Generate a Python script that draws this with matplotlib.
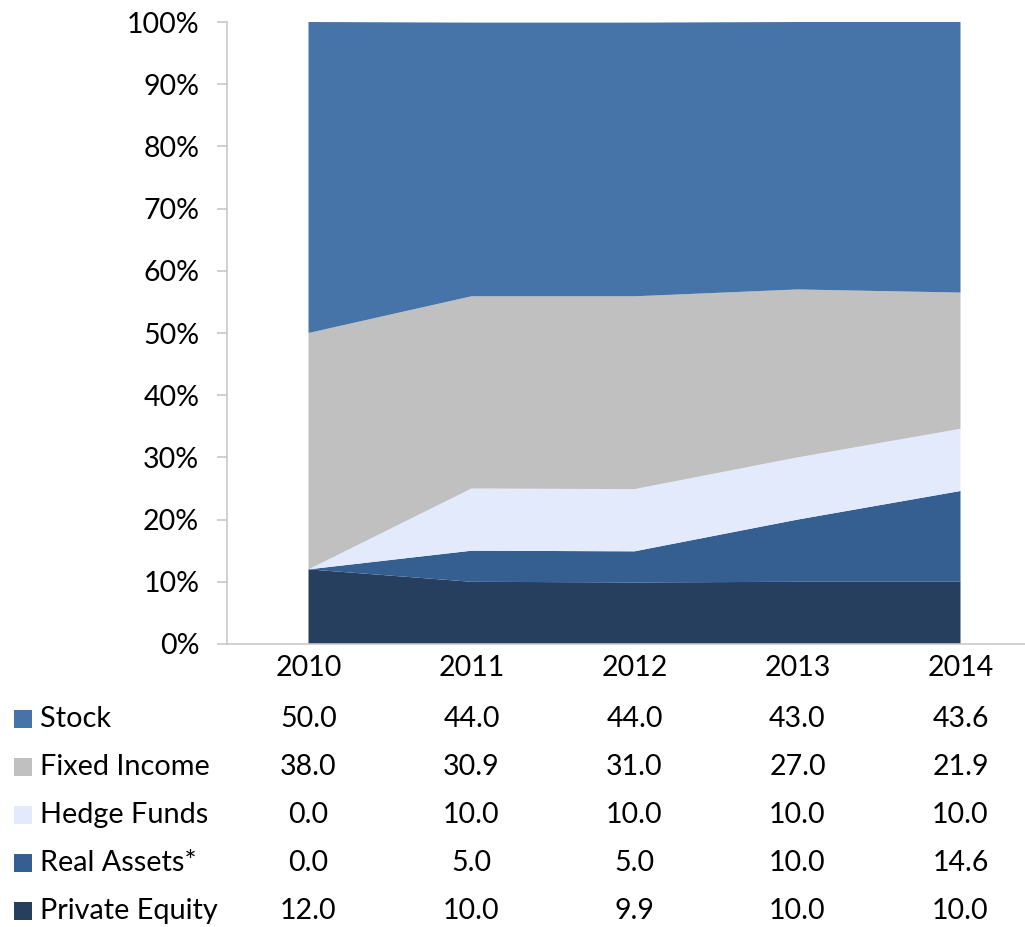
import matplotlib
matplotlib.use("Agg")
import matplotlib.pyplot as plt
from matplotlib.patches import Rectangle
from matplotlib.transforms import blended_transform_factory
import numpy as np

years = ["2010", "2011", "2012", "2013", "2014"]
series_names = ["Stock", "Fixed Income", "Hedge Funds", "Real Assets*", "Private Equity"]
stock = [50.0, 44.0, 44.0, 43.0, 43.6]
fixed_income = [38.0, 30.9, 31.0, 27.0, 21.9]
hedge_funds = [0.0, 10.0, 10.0, 10.0, 10.0]
real_assets = [0.0, 5.0, 5.0, 10.0, 14.6]
private_equity = [12.0, 10.0, 9.9, 10.0, 10.0]

colors = {
    "Stock": "#4673A8",
    "Fixed Income": "#C0C0C0",
    "Hedge Funds": "#E3EAFB",
    "Real Assets*": "#355F91",
    "Private Equity": "#263F5F",
}

plt.rcParams['font.family'] = ['Lato', 'DejaVu Sans']

fig = plt.figure(figsize=(10.25, 9.27), dpi=100)
W, H = 1025, 927
ax = fig.add_axes([227 / W, (H - 644) / H, 815 / W, 622 / H])

x = np.arange(len(years))
stack_order = [private_equity, real_assets, hedge_funds, fixed_income, stock]
stack_names = ["Private Equity", "Real Assets*", "Hedge Funds", "Fixed Income", "Stock"]
ax.stackplot(x, *[np.array(s) / 100.0 for s in stack_order],
             colors=[colors[n] for n in stack_names], linewidth=0)

ax.set_xlim(-0.5, 4.5)
ax.set_ylim(0, 1.0)
ax.set_yticks(np.arange(0, 1.01, 0.1))
ax.set_yticklabels([f"{int(round(v * 100))}%" for v in np.arange(0, 1.01, 0.1)], fontsize=20.5)
ax.set_xticks(x)
ax.set_xticklabels(years, fontsize=20.5)

for s in ["top", "right"]:
    ax.spines[s].set_visible(False)
ax.spines["left"].set_color("#C8C8C8")
ax.spines["bottom"].set_color("#C8C8C8")
ax.spines["left"].set_linewidth(1.2)
ax.spines["bottom"].set_linewidth(1.2)
ax.tick_params(axis="y", length=7, color="#C8C8C8", width=1.2, pad=13)
ax.tick_params(axis="x", length=0, pad=8)

# Data table below
trans = blended_transform_factory(ax.transData, fig.transFigure)
table_series = [stock, fixed_income, hedge_funds, real_assets, private_equity]
row_y = [719, 767, 815, 863, 911]
for name, vals, yp in zip(series_names, table_series, row_y):
    yf = (H - yp) / H
    fig.patches.append(Rectangle((14 / W, (H - 717) / H - 9 / H + (717 - yp) / H), 18 / W, 18 / H,
                                 transform=fig.transFigure, facecolor=colors[name],
                                 edgecolor="none"))
    fig.text(40 / W, yf, name, fontsize=20.8, va="center", ha="left")
    for xi, v in zip(x, vals):
        fig.text(xi, yf, f"{v:.1f}", fontsize=20.5, va="center", ha="center",
                 transform=trans)

fig.savefig("out.png", dpi=100)
